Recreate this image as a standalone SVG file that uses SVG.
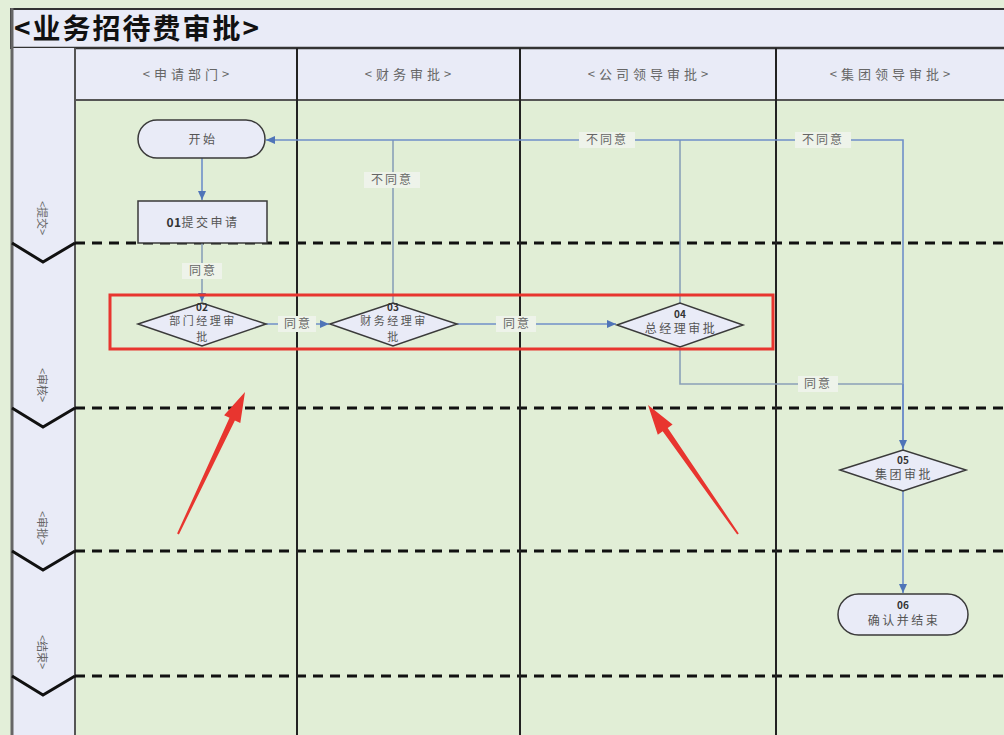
<svg xmlns="http://www.w3.org/2000/svg" width="1004" height="735" viewBox="0 0 1004 735">
<defs>
<style>
.t{font-family:"Noto Sans CJK SC","Noto Sans",sans-serif}
.hdr{font-size:13px;fill:#666;text-anchor:middle;letter-spacing:4px}
.lane{font-size:11px;fill:#666;text-anchor:middle}
.nt{font-size:12px;fill:#555;text-anchor:middle;letter-spacing:2.5px}
.nd{font-size:11px;fill:#555;text-anchor:middle;letter-spacing:2.5px}
.nb{font-size:10px;fill:#333;text-anchor:middle;font-weight:bold}
.lbl{font-size:12px;fill:#666;text-anchor:middle;letter-spacing:2px}
.shape{fill:#e9ebf7;stroke:#3a3a3a;stroke-width:1.5}
.col{stroke:#222;stroke-width:2}
.dash{stroke:#111;stroke-width:3;stroke-dasharray:10 7;fill:none}
.chev{stroke:#111;stroke-width:3;fill:none}
.c{fill:none;stroke:#6f8fc9;stroke-width:1.6}
.cg{fill:none;stroke:#8aa0b8;stroke-width:1.6}
.lb{fill:#eef3ea}
</style>
<marker id="ar" markerWidth="10" markerHeight="10" refX="9" refY="5" orient="auto" markerUnits="userSpaceOnUse">
<path d="M0,1 L9,5 L0,9 Z" fill="#4f74b8"/>
</marker>
</defs>
<rect x="0" y="0" width="1004" height="735" fill="#e3efd9"/>
<g id="title">
<rect x="11" y="9" width="995" height="39" fill="#e9ebf7" stroke="#333" stroke-width="2"/>
<text x="14" y="39" class="t" font-size="28" font-weight="bold" fill="#111" letter-spacing="2">&lt;业务招待费审批&gt;</text>
</g>
<g id="header">
<rect x="11" y="48" width="995" height="52" fill="#e9ebf7"/>
<line x1="11" y1="48" x2="1004" y2="48" stroke="#333" stroke-width="2.5"/>
<line x1="75" y1="100" x2="1004" y2="100" stroke="#555" stroke-width="2"/>
<text x="188" y="79" class="t hdr">&lt;申请部门&gt;</text>
<text x="410" y="79" class="t hdr">&lt;财务审批&gt;</text>
<text x="650" y="79" class="t hdr">&lt;公司领导审批&gt;</text>
<text x="892" y="79" class="t hdr">&lt;集团领导审批&gt;</text>
</g>
<rect x="76" y="101" width="928" height="634" fill="#e1eed6"/>
<g id="lanes">
<rect x="12" y="48" width="63" height="690" fill="#e9ebf7"/>
<line x1="12" y1="8" x2="12" y2="735" stroke="#666" stroke-width="3"/>
<line x1="75" y1="48" x2="75" y2="735" stroke="#555" stroke-width="2"/>
<text class="t lane" transform="translate(42,218) rotate(90)" dy="4">&lt;提交&gt;</text>
<text class="t lane" transform="translate(42,385) rotate(90)" dy="4">&lt;审核&gt;</text>
<text class="t lane" transform="translate(42,528) rotate(90)" dy="4">&lt;审批&gt;</text>
<text class="t lane" transform="translate(42,652) rotate(90)" dy="4">&lt;结束&gt;</text>
<polyline class="chev" points="12,243 43,262 75,243"/>
<polyline class="chev" points="12,408 43,427 75,408"/>
<polyline class="chev" points="12,551 43,570 75,551"/>
<polyline class="chev" points="12,676 43,695 75,676"/>
<line class="dash" x1="75" y1="243" x2="1004" y2="243"/>
<line class="dash" x1="75" y1="408" x2="1004" y2="408"/>
<line class="dash" x1="75" y1="551" x2="1004" y2="551"/>
<line class="dash" x1="75" y1="676" x2="1004" y2="676"/>
</g>
<g id="columns">
<line class="col" x1="297" y1="48" x2="297" y2="735"/>
<line class="col" x1="520" y1="48" x2="520" y2="735"/>
<line class="col" x1="776" y1="48" x2="776" y2="735"/>
</g>
<g id="connectors">
<line class="c" x1="202" y1="158" x2="202" y2="200" marker-end="url(#ar)"/>
<line class="cg" x1="202" y1="243" x2="202" y2="302" marker-end="url(#ar)"/>
<line class="c" x1="266" y1="324" x2="329" y2="324" marker-end="url(#ar)"/>
<line class="c" x1="457" y1="324" x2="616" y2="324" marker-end="url(#ar)"/>
<polyline class="cg" points="393,303 393,140"/>
<polyline class="cg" points="680,303 680,140"/>
<polyline class="c" points="903,450 903,140 266,140" marker-end="url(#ar)"/>
<polyline class="cg" points="680,346 680,384 903,384"/>
<line class="c" x1="903" y1="384" x2="903" y2="449" marker-end="url(#ar)"/>
<line class="c" x1="903" y1="490" x2="903" y2="593" marker-end="url(#ar)"/>
<rect class="lb" x="182" y="263" width="40" height="16"/>
<text x="203" y="275" class="t lbl">同意</text>
<rect class="lb" x="278" y="316" width="38" height="16"/>
<text x="298" y="328" class="t lbl">同意</text>
<rect class="lb" x="496" y="316" width="40" height="16"/>
<text x="517" y="328" class="t lbl">同意</text>
<rect class="lb" x="364" y="172" width="56" height="16"/>
<text x="392" y="184" class="t lbl">不同意</text>
<rect class="lb" x="579" y="132" width="56" height="16"/>
<text x="607" y="144" class="t lbl">不同意</text>
<rect class="lb" x="795" y="132" width="56" height="16"/>
<text x="823" y="144" class="t lbl">不同意</text>
<rect class="lb" x="798" y="376" width="40" height="16"/>
<text x="818" y="388" class="t lbl">同意</text>
</g>
<g id="start">
<rect class="shape" x="138" y="120" width="127" height="38" rx="19"/>
<text x="203" y="144" class="t nt">开始</text>
</g>
<g id="n01">
<rect class="shape" x="138" y="201" width="129" height="42"/>
<text x="203" y="227" class="t nt"><tspan font-weight="bold" fill="#333" letter-spacing="0.5">01</tspan>提交申请</text>
</g>
<g id="n02">
<polygon class="shape" points="138,324 202,303 266,324 202,346"/>
<text x="202" y="311" class="t nb">02</text>
<text x="203" y="325" class="t nd">部门经理审</text>
<text x="203" y="341" class="t nd">批</text>
</g>
<g id="n03">
<polygon class="shape" points="330,324 393,303 457,324 393,346"/>
<text x="393" y="311" class="t nb">03</text>
<text x="394" y="325" class="t nd">财务经理审</text>
<text x="394" y="341" class="t nd">批</text>
</g>
<g id="n04">
<polygon class="shape" points="617,325 680,303 743,325 680,347"/>
<text x="680" y="318" class="t nb">04</text>
<text x="681" y="333" class="t nt">总经理审批</text>
</g>
<g id="n05">
<polygon class="shape" points="840,470 903,450 966,470 903,491"/>
<text x="903" y="464" class="t nb">05</text>
<text x="904" y="479" class="t nt">集团审批</text>
</g>
<g id="n06">
<rect class="shape" x="838" y="594" width="130" height="41" rx="20.5"/>
<text x="903" y="609" class="t nb">06</text>
<text x="904" y="625" class="t nt">确认并结束</text>
</g>
<g id="highlight">
<rect x="110" y="295" width="663" height="54" fill="none" stroke="#e8352f" stroke-width="3"/>
<polygon fill="#e8352f" points="178.9,534.4 234.9,420.4 240.3,423 245,392 224.1,415.3 229.5,417.8 177.1,533.6"/>
<polygon fill="#e8352f" points="738.8,533.4 667.7,427.9 672.6,424.5 648,405 657.8,434.7 662.7,431.3 737.2,534.6"/>
</g>
</svg>
